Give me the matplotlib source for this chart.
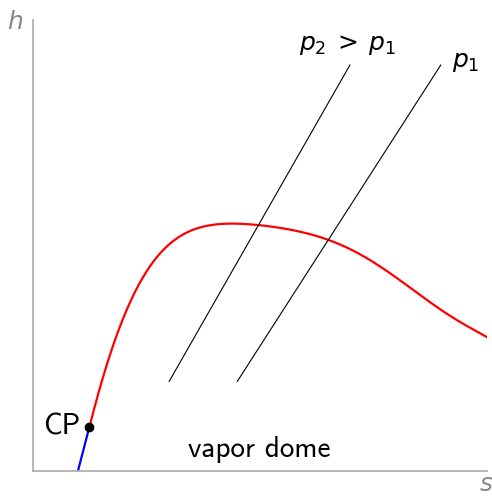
import matplotlib
matplotlib.use("Agg")
import matplotlib.pyplot as plt
import numpy as np

plt.rcParams['mathtext.fontset'] = 'dejavusans'

# saturation curve (s, h), from the critical point to the right
sat_s = [0.124, 0.144, 0.166, 0.184, 0.210, 0.243, 0.280, 0.324, 0.375, 0.427,
         0.471, 0.500, 0.566, 0.650, 0.713, 0.764, 0.816, 0.889, 0.963, 1.000]
sat_h = [0.097, 0.157, 0.246, 0.305, 0.368, 0.435, 0.483, 0.516, 0.538, 0.549,
         0.551, 0.547, 0.534, 0.512, 0.483, 0.453, 0.420, 0.364, 0.316, 0.297]
# liquid line below the critical point
liq_s = [0.099, 0.124]
liq_h = [0.000, 0.097]
cp = (0.124, 0.097)
# isobars
iso_p2_s = [0.300, 0.698]
iso_p2_h = [0.199, 0.900]
iso_p1_s = [0.450, 0.898]
iso_p1_h = [0.199, 0.900]


def smooth_curve(x, y, deg=7, n=400):
    # least-squares polynomial h(s) through the read points
    x = np.asarray(x)
    y = np.asarray(y)
    w = np.ones_like(x)
    w[0] = w[-1] = 4
    c = np.polyfit(x, y, deg, w=w)
    xx = np.linspace(x[0], x[-1], n)
    return xx, np.polyval(c, xx)


fig = plt.figure(figsize=(4.92, 4.97), dpi=100)
ax = fig.add_axes([0.067, 0.052, 0.923, 0.908])

xs, ys = smooth_curve(sat_s, sat_h)
ax.plot(xs, ys, color='red', lw=1.6)
ax.plot(liq_s, liq_h, color='blue', lw=1.6)
ax.plot(iso_p2_s, iso_p2_h, color='black', lw=0.8)
ax.plot(iso_p1_s, iso_p1_h, color='black', lw=0.8)
ax.plot(*cp, 'o', color='black', ms=6, zorder=5)

ax.text(cp[0] - 0.02, cp[1], 'CP', ha='right', va='center',
        fontsize=21, family='cmss10')
ax.text(0.498, 0.049, 'vapor dome', ha='center', va='center',
        fontsize=21, family='cmss10')
ax.text(0.692, 0.945, r'$p_2 \:>\: p_1$', ha='center', va='center', fontsize=18)
ax.text(0.923, 0.907, r'$p_1$', ha='left', va='center', fontsize=18)

ax.set_xlim(0, 1)
ax.set_ylim(0, 1)
ax.set_xticks([])
ax.set_yticks([])
for side in ['top', 'right']:
    ax.spines[side].set_visible(False)
for side in ['left', 'bottom']:
    ax.spines[side].set_color('#aaaaaa')
    ax.spines[side].set_linewidth(1.2)

fig.text(0.031, 0.955, r'$h$', color='#888888', fontsize=18, ha='center', va='center')
fig.text(0.988, 0.027, r'$s$', color='#888888', fontsize=18, ha='center', va='center')

fig.savefig('out.png', dpi=100)
